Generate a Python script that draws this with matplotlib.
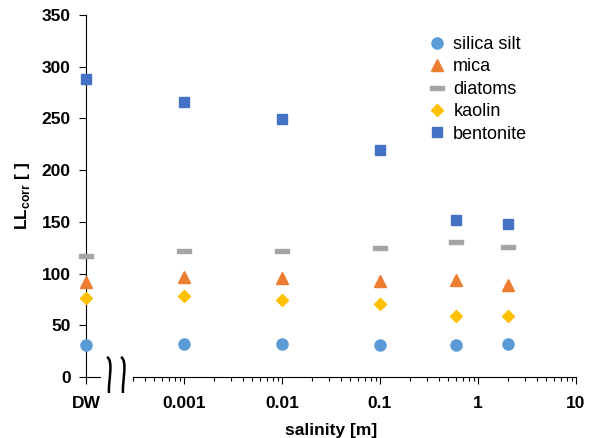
"""
Liquid limit (LL_corr) of different soils versus pore-fluid salinity.
"""
import numpy as np
import matplotlib
matplotlib.use('Agg')
import matplotlib.pyplot as plt
from matplotlib.path import Path
from matplotlib.patches import PathPatch
from matplotlib.ticker import FixedLocator, NullFormatter

plt.rcParams['font.family'] = ['Liberation Sans', 'DejaVu Sans']
plt.rcParams['mathtext.fontset'] = 'custom'
plt.rcParams['mathtext.rm'] = 'Liberation Sans:bold'
plt.rcParams['mathtext.bf'] = 'Liberation Sans:bold'

# data: first value of each series is distilled water (DW)
salinity = [0.001, 0.01, 0.1, 0.6, 2.0]
tick_values = [0.001, 0.01, 0.1, 1, 10]
tick_labels = ['0.001', '0.01', '0.1', '1', '10']

silica_silt = [31, 32, 32, 31, 30.5, 32]
mica = [92, 97, 96, 93, 94, 88.5]
diatoms = [117, 122, 122, 125, 131, 126]
kaolin = [76, 78, 74.5, 70.5, 59, 59]
bentonite = [288, 266, 249.5, 219.5, 152, 148]

DW_POS = 1e-4  # where DW sits on the broken log axis

W, H = 598, 438
fig = plt.figure(figsize=(W / 100, H / 100), dpi=100)
ax = fig.add_axes([86 / W, 1 - 377 / H, 490 / W, 362 / H])

x = [DW_POS] + salinity

# rounded horizontal dash for the diatoms marker
dash = Path([(-1, -0.28), (1, -0.28), (1, 0.28), (-1, 0.28), (-1, -0.28)],
            [Path.MOVETO, Path.LINETO, Path.LINETO, Path.LINETO,
             Path.CLOSEPOLY])

series = [
    ('silica silt', silica_silt, dict(marker='o', ms=8, color='#5B9BD5')),
    ('mica', mica, dict(marker='^', ms=8.5, color='#ED7D31')),
    ('diatoms', diatoms, dict(marker=dash, ms=10, color='#A5A5A5',
                              mew=1, mec='#A5A5A5')),
    ('kaolin', kaolin, dict(marker='D', ms=6, color='#FFC000')),
    ('bentonite', bentonite, dict(marker='s', ms=7.5, color='#4472C4')),
]

for name, vals, style in series:
    ax.plot(x, vals, linestyle='none', label=name, clip_on=False, zorder=3,
            **style)

ax.set_xscale('log')
ax.set_xlim(DW_POS, 10)
ax.set_ylim(0, 350)
ax.set_yticks(np.arange(0, 351, 50))

ax.set_xticks([DW_POS] + tick_values)
ax.set_xticklabels(['DW'] + tick_labels)
minor = [k * 10.0 ** e for e in range(-4, 1) for k in range(2, 10)
         if k * 10.0 ** e >= 3e-4]
ax.xaxis.set_minor_locator(FixedLocator(minor))
ax.xaxis.set_minor_formatter(NullFormatter())

ax.tick_params(axis='both', which='major', direction='out', length=5,
               width=0.8, labelsize=12.5)
ax.tick_params(axis='x', which='major', pad=9)
ax.tick_params(axis='y', which='major', pad=6)
ax.tick_params(axis='x', which='minor', direction='out', length=3, width=0.8)
for lab in ax.get_xticklabels() + ax.get_yticklabels():
    lab.set_fontweight('bold')

for side in ['top', 'right', 'bottom']:
    ax.spines[side].set_visible(False)
ax.spines['left'].set_linewidth(0.8)

# broken x axis: short piece at DW, then the log part
trans = ax.get_xaxis_transform()
ax.plot([DW_POS, 1.39e-4], [0, 0], color='black', lw=0.8, transform=trans,
        clip_on=False)
ax.plot([3e-4, 10], [0, 0], color='black', lw=0.8, transform=trans,
        clip_on=False)


def px(xp, yp):
    return (xp / W, 1 - yp / H)


for x0 in [107, 121]:
    verts = [px(x0, 357), px(x0 + 7, 361), px(x0 + 1, 382), px(x0 + 2, 393)]
    codes = [Path.MOVETO, Path.CURVE4, Path.CURVE4, Path.CURVE4]
    fig.patches.append(PathPatch(Path(verts, codes), transform=fig.transFigure,
                                 fill=False, lw=1.8, color='black'))

ax.set_xlabel('salinity [m]', fontsize=12.5, fontweight='bold', labelpad=8)
ax.set_ylabel(r'LL$_{\mathrm{corr}}$ [ ]', fontsize=12.5, fontweight='bold')
ax.yaxis.set_label_coords(-0.11, 0.5)

ax.legend(loc='upper left', bbox_to_anchor=(428 / W, 1 - 36 / H),
          bbox_transform=fig.transFigure, frameon=False, fontsize=13,
          handlelength=1.0, handletextpad=0.4, labelspacing=0.3,
          borderpad=0, borderaxespad=0, numpoints=1)

fig.savefig('out.png', dpi=100)
